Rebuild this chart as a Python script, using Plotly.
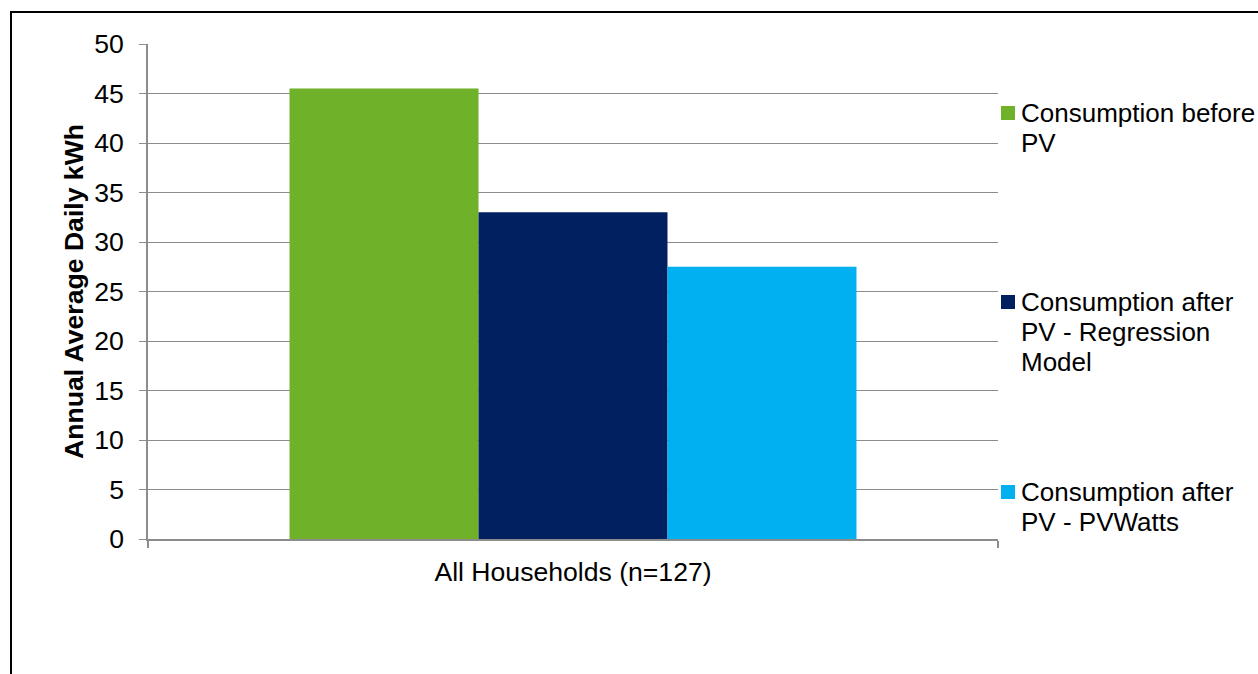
import plotly.graph_objects as go

categories = ["All Households (n=127)"]
series_names = ["Consumption before<br>PV", "Consumption after<br>PV - Regression<br>Model", "Consumption after<br>PV - PVWatts"]
series_values = [[45.5], [33.0], [27.5]]
series_colors = ["#70B12A", "#002060", "#00B0F0"]
y_ticks = [0, 5, 10, 15, 20, 25, 30, 35, 40, 45, 50]

W, H = 1258, 674
L, R, T, B = 148, 260, 44, 135
FS = 26.6
FS_LEG = 26

fig = go.Figure()
for name, vals, col in zip(series_names, series_values, series_colors):
    fig.add_trace(go.Bar(x=categories, y=vals, name=name.replace("<br>", " "),
                         marker=dict(color=col, line=dict(width=0)), showlegend=False))

pw = W - L - R
ph = H - T - B
def px_x(x):
    return (x - L) / pw
def px_y(y):
    return 1 - (y - T) / ph

# manual legend (entries spread down the right side like the original)
legend_first_line_y = [113, 302, 492]
line_step = 30
annotations = []
shapes = [dict(type="rect", xref="paper", yref="paper",
               x0=px_x(11), x1=px_x(1300), y0=px_y(720), y1=px_y(12),
               line=dict(color="black", width=2), fillcolor="rgba(0,0,0,0)", layer="above")]
for name, col, y0 in zip(series_names, series_colors, legend_first_line_y):
    shapes.append(dict(type="rect", xref="paper", yref="paper",
                       x0=px_x(1001), x1=px_x(1015), y0=px_y(y0 + 7), y1=px_y(y0 - 7),
                       line=dict(width=0), fillcolor=col))
    for i, line in enumerate(name.split("<br>")):
        annotations.append(dict(text=line, xref="paper", yref="paper",
                                x=px_x(1019), y=px_y(y0 + i * line_step),
                                xanchor="left", yanchor="middle", showarrow=False,
                                font=dict(family="Liberation Sans, Arial", size=FS_LEG, color="#000000")))

fig.update_layout(
    width=W, height=H,
    margin=dict(l=L, r=R, t=T, b=B, pad=0),
    paper_bgcolor="white", plot_bgcolor="white",
    barmode="group", bargap=0.333, bargroupgap=0,
    font=dict(family="Liberation Sans, Arial", size=FS, color="#000000"),
    showlegend=False,
    xaxis=dict(showgrid=False, showline=True, linecolor="#8C8C8C", linewidth=1.5,
               ticks="outside", ticklen=7, tickcolor="#8C8C8C", tickwidth=1.5,
               tickson="boundaries", tickfont=dict(size=FS), ticklabelstandoff=8, fixedrange=True),
    yaxis=dict(range=[0, 50], tickvals=y_ticks, showgrid=True, gridcolor="#8C8C8C", gridwidth=1.3,
               showline=True, linecolor="#8C8C8C", linewidth=1.5, zeroline=False,
               ticks="outside", ticklen=7, tickcolor="#8C8C8C", tickwidth=1.3,
               tickfont=dict(size=FS), ticklabelstandoff=10,
               title=dict(text="<b>Annual Average Daily kWh</b>", font=dict(size=FS), standoff=3)),
    shapes=shapes,
    annotations=annotations,
)

fig.write_html("out.html")
